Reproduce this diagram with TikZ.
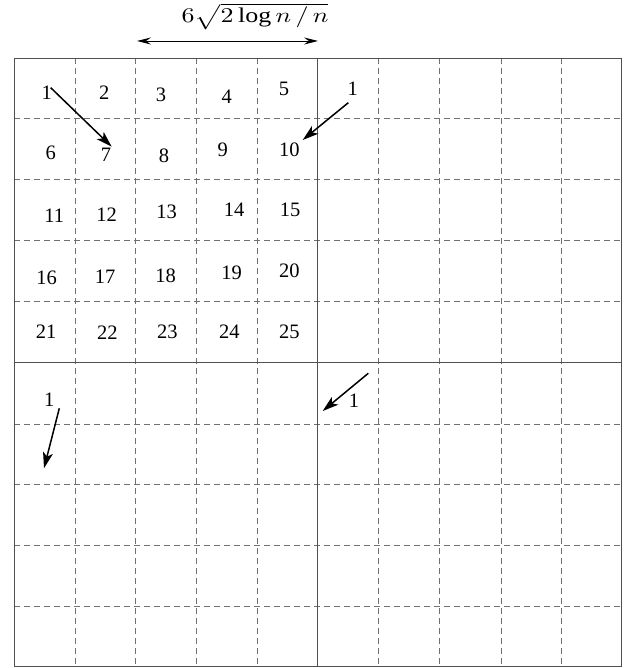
\documentclass[tikz,border=0pt]{standalone}
\usepackage{fontspec}
\setmainfont{Liberation Serif}
\usetikzlibrary{arrows.meta}
\definecolor{solidgray}{HTML}{505050}
\definecolor{dashgray}{HTML}{707070}
\tikzset{
  num/.style={inner sep=0pt,font=\fontsize{20.5}{20}\selectfont},
  gridsolid/.style={draw=solidgray,line width=0.9pt},
  griddash/.style={draw=dashgray,line width=0.8pt,dash pattern=on 6pt off 4pt},
  movearrow/.style={draw=black,line width=1.5pt,-{Stealth[length=16pt,width=10pt,inset=4pt]}},
  dimarrow/.style={draw=black,line width=0.9pt,{Stealth[length=14pt,width=7pt,inset=5pt]}-{Stealth[length=14pt,width=7pt,inset=5pt]}}
}
\begin{document}
\begin{tikzpicture}[x=1pt,y=-1pt]
\useasboundingbox (0,0) rectangle (629,668);
% dashed grid
\foreach \x in {75.5,135.5,196,257,378,439,501.5,561}
  \draw[griddash] (\x,58) -- (\x,666.5);
\foreach \y in {118,179.5,240,301,424,484,545,606.5}
  \draw[griddash] (14,\y) -- (621.5,\y);
% solid lines
\draw[gridsolid] (14,58) rectangle (621.5,666.5);
\draw[gridsolid] (317.5,58) -- (317.5,666.5);
\draw[gridsolid] (14,362.5) -- (621.5,362.5);
% dimension
\coordinate (dl) at (137,41);
\coordinate (dr) at (318,41);
\draw[dimarrow] (dl) -- (dr);
\node[inner sep=0pt,anchor=base west] (dimlabel) at (181.5,23) {\scalebox{2.6}[2.1]{$6\sqrt{2\log n\,/\,n}$}};
% numbers
\node[num] (n1) at (46.7,92.7) {1};
\node[num] (n2) at (104.3,92.7) {2};
\node[num] (n3) at (161,95) {3};
\node[num] (n4) at (226.7,96.7) {4};
\node[num] (n5) at (284,89.3) {5};
\node[num] (n6) at (50.7,153.3) {6};
\node[num] (n7) at (106,155) {7};
\node[num] (n8) at (164,156) {8};
\node[num] (n9) at (222.7,150) {9};
\node[num] (n10) at (289.3,149.3) {10};
\node[num] (n11) at (54.3,216) {11};
\node[num] (n12) at (106.7,214.3) {12};
\node[num] (n13) at (166.7,211.7) {13};
\node[num] (n14) at (234,210) {14};
\node[num] (n15) at (290,210) {15};
\node[num] (n16) at (46.7,278.3) {16};
\node[num] (n17) at (105,276.7) {17};
\node[num] (n18) at (165.7,275.7) {18};
\node[num] (n19) at (231.7,272.7) {19};
\node[num] (n20) at (289.3,270.7) {20};
\node[num] (n21) at (46,331.7) {21};
\node[num] (n22) at (107.3,332.3) {22};
\node[num] (n23) at (167.3,332.3) {23};
\node[num] (n24) at (229.3,331.7) {24};
\node[num] (n25) at (289.3,331.7) {25};
% other labels
\node[num] (la) at (352.7,88.3) {1};
\node[num] (lb) at (49.3,400) {1};
\node[num] (lc) at (354,401) {1};
% arrows
\coordinate (a1s) at (50.7,87.7);
\coordinate (a1e) at (111.7,146.7);
\draw[movearrow] (a1s) -- (a1e);
\coordinate (a2s) at (348.3,102.7);
\coordinate (a2e) at (302.7,140);
\draw[movearrow] (a2s) -- (a2e);
\coordinate (a3s) at (59.3,408.3);
\coordinate (a3e) at (44,468.3);
\draw[movearrow] (a3s) -- (a3e);
\coordinate (a4s) at (368.3,373.3);
\coordinate (a4e) at (322.7,411);
\draw[movearrow] (a4s) -- (a4e);
\end{tikzpicture}
\end{document}
